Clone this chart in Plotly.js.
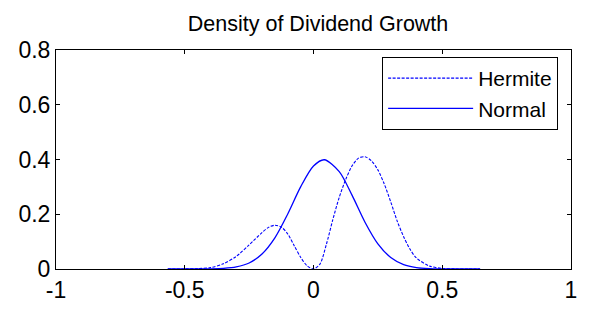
<!DOCTYPE html>
<html>
<head>
<meta charset="utf-8">
<script src="https://cdn.plot.ly/plotly-3.0.1.min.js"></script>
<style>html,body{margin:0;padding:0;background:#fff;}#chart{width:589px;height:309px;}</style>
</head>
<body>
<div id="chart"></div>
<script>
// Values
const normalX = [-0.566, -0.45, -0.40, -0.35, -0.30, -0.25, -0.20, -0.15, -0.10, -0.05, 0.00, 0.042, 0.10, 0.15, 0.20, 0.25, 0.30, 0.35, 0.40, 0.45, 0.50, 0.55, 0.647];
const normalY = [0.0, 0.0001, 0.0005, 0.0022, 0.0076, 0.022, 0.055, 0.114, 0.201, 0.300, 0.376, 0.399, 0.356, 0.269, 0.171, 0.092, 0.042, 0.016, 0.0052, 0.0014, 0.0003, 0.0, 0.0];

const hermiteX = [-0.566, -0.50, -0.45, -0.40, -0.35, -0.30, -0.25, -0.20, -0.175, -0.15, -0.125, -0.10, -0.075, -0.05, -0.025, 0.00, 0.025, 0.05, 0.075, 0.10, 0.125, 0.15, 0.175, 0.20, 0.225, 0.25, 0.275, 0.30, 0.325, 0.35, 0.375, 0.40, 0.45, 0.50, 0.55, 0.60, 0.647];
const hermiteY = [0.0, 0.0003, 0.0015, 0.005, 0.019, 0.046, 0.088, 0.133, 0.152, 0.160, 0.153, 0.128, 0.085, 0.043, 0.012, 0.0, 0.018, 0.090, 0.180, 0.262, 0.327, 0.377, 0.405, 0.410, 0.395, 0.362, 0.310, 0.245, 0.175, 0.118, 0.072, 0.040, 0.011, 0.002, 0.0003, 0.0, 0.0];

const xTicks = [-1, -0.5, 0, 0.5, 1];
const xTickText = ['-1', '-0.5', '0', '0.5', '1'];
const yTicks = [0, 0.2, 0.4, 0.6, 0.8];
const yTickText = ['0', '0.2', '0.4', '0.6', '0.8'];

const FONT = 'Liberation Sans, Arial, sans-serif';

const traces = [
  {x: hermiteX, y: hermiteY, name: 'Hermite', mode: 'lines', type: 'scatter',
   line: {color: '#0000ff', width: 1.1, dash: '3px,1.5px', shape: 'spline', smoothing: 0.8}},
  {x: normalX, y: normalY, name: 'Normal', mode: 'lines', type: 'scatter',
   line: {color: '#0000ff', width: 1.3, shape: 'spline', smoothing: 0.8}}
];

const axisCommon = {
  showgrid: false, zeroline: false, showline: true, linecolor: '#000', linewidth: 1,
  mirror: 'ticks', ticks: 'inside', ticklen: 4, tickcolor: '#000', tickwidth: 1,
  tickfont: {family: FONT, size: 23, color: '#000'}
};

const layout = {
  width: 589, height: 309,
  margin: {l: 56, r: 18, t: 50, b: 40, pad: 0},
  paper_bgcolor: '#fff', plot_bgcolor: '#fff',
  title: {text: 'Density of Dividend Growth', font: {family: FONT, size: 21.5, color: '#000'},
          x: 0.54, xanchor: 'center', y: 0.925, yanchor: 'middle'},
  xaxis: Object.assign({}, axisCommon, {range: [-1, 1], tickvals: xTicks, ticktext: xTickText}),
  yaxis: Object.assign({}, axisCommon, {range: [0, 0.8], tickvals: yTicks, ticktext: yTickText}),
  showlegend: true,
  legend: {x: 0.975, xanchor: 'right', y: 0.968, yanchor: 'top',
           bgcolor: '#fff', bordercolor: '#000', borderwidth: 1,
           font: {family: FONT, size: 21, color: '#000'}, itemwidth: 85}
};

Plotly.newPlot('chart', traces, layout, {displayModeBar: false, staticPlot: true});
</script>
</body>
</html>
